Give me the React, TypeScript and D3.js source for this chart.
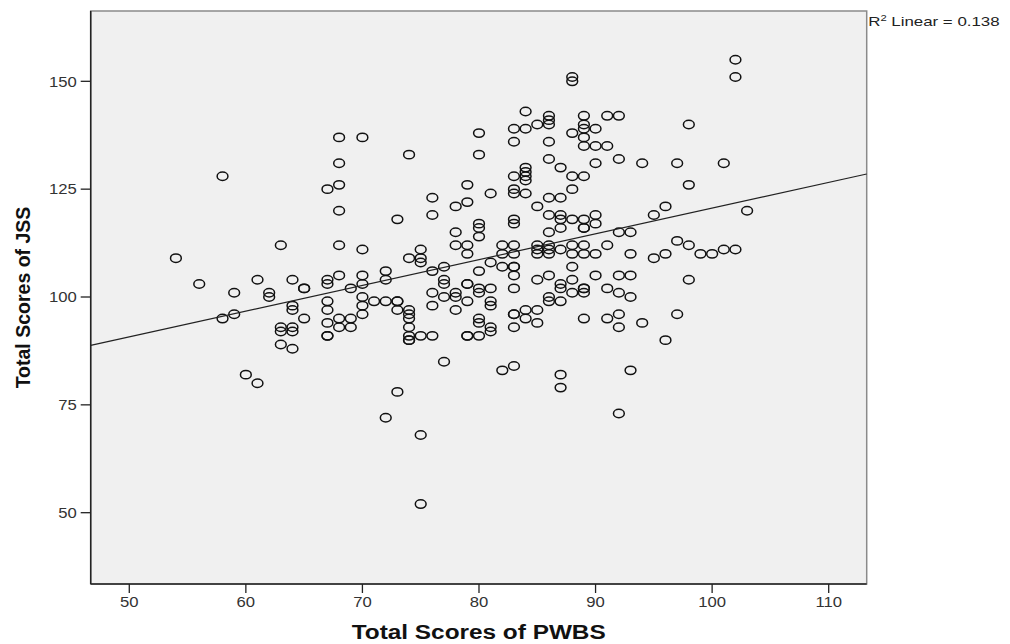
import { useEffect, useRef } from 'react';
import * as d3 from 'd3';

// Total Scores of PWBS (x) / Total Scores of JSS (y)
const pwbs = [
  68, 70, 68, 58, 68, 67, 68, 63, 68, 70, 54, 56, 61, 64, 67, 67, 68, 70, 70, 69,
  59, 62, 62, 65, 65, 70, 64, 64, 70, 70, 59, 58, 65, 63, 63, 64, 64, 67, 68, 69,
  68, 69, 67, 67, 63, 64, 60, 61, 67, 67,
  74, 80, 80, 84, 83, 84, 85, 86, 86, 86, 88, 88, 88, 83, 86, 86, 87, 88, 88, 84,
  84, 84, 84, 83, 83, 83, 84, 81, 79, 79, 78, 76, 76, 73, 85, 86, 87, 86, 87, 87,
  88, 87, 86, 80, 80, 80, 83, 83, 78, 78, 79, 79, 82, 82, 83, 83, 85, 85, 85, 86,
  86, 86, 87, 88, 88, 75, 75, 75, 74, 72, 72, 76, 77, 77, 77, 80, 81, 82, 83, 83,
  83, 85, 86, 87, 87, 88, 88, 88, 76, 77, 78, 78, 79, 79, 80, 80, 81, 83, 86, 86,
  87, 76, 79, 81, 81, 78, 83, 83, 84, 85, 84, 85, 80, 80, 81, 81, 83, 71, 72, 73,
  73, 73, 74, 74, 74, 74, 74, 74, 74, 75, 76, 79, 79, 80, 77, 82, 83, 87, 87, 73,
  72, 75, 75,
  102, 102, 89, 91, 92, 89, 89, 90, 89, 89, 90, 91, 98, 92, 90, 94, 97, 101, 89, 98,
  96, 95, 103, 89, 90, 90, 89, 89, 92, 93, 89, 91, 89, 90, 93, 95, 96, 97, 98, 99,
  100, 101, 102, 90, 92, 93, 98, 89, 89, 89, 91, 92, 93, 89, 91, 92, 92, 94, 97, 96,
  93, 92,
];
const jss = [
  137, 137, 131, 128, 126, 125, 120, 112, 112, 111, 109, 103, 104, 104, 104, 103, 105, 105, 103, 102,
  101, 101, 100, 102, 102, 100, 98, 97, 98, 96, 96, 95, 95, 93, 92, 93, 92, 94, 95, 95,
  93, 93, 91, 91, 89, 88, 82, 80, 99, 97,
  133, 138, 133, 143, 139, 139, 140, 142, 141, 140, 151, 150, 138, 136, 136, 132, 130, 128, 125, 130,
  129, 128, 127, 128, 125, 124, 124, 124, 126, 122, 121, 123, 119, 118, 121, 123, 123, 119, 119, 118,
  118, 116, 115, 117, 116, 114, 118, 117, 115, 112, 112, 110, 112, 110, 112, 110, 112, 111, 110, 112,
  111, 110, 111, 112, 110, 111, 109, 108, 109, 106, 104, 106, 107, 104, 103, 106, 108, 107, 107, 107,
  105, 104, 105, 103, 102, 107, 104, 101, 101, 100, 101, 100, 103, 103, 102, 101, 102, 102, 100, 99,
  99, 98, 99, 99, 98, 97, 96, 96, 97, 97, 95, 94, 95, 94, 93, 92, 93, 99, 99, 99,
  99, 97, 97, 96, 95, 93, 91, 90, 90, 91, 91, 91, 91, 91, 85, 83, 84, 82, 79, 78,
  72, 68, 52,
  155, 151, 142, 142, 142, 140, 139, 139, 137, 135, 135, 135, 140, 132, 131, 131, 131, 131, 128, 126,
  121, 119, 120, 118, 119, 117, 116, 116, 115, 115, 112, 112, 110, 110, 110, 109, 110, 113, 112, 110,
  110, 111, 111, 105, 105, 105, 104, 102, 102, 101, 102, 101, 100, 95, 95, 96, 93, 94, 96, 90,
  83, 73,
];

const xTicks = [50, 60, 70, 80, 90, 100, 110];
const yTicks = [50, 75, 100, 125, 150];
const xDomain = [46.69, 113.26];
const yDomain = [33.47, 166.3];

// linear fit as drawn in the reference
const fitIntercept = 60.9;
const fitSlope = 0.597;
const r2Label = '0.138';

const xTitle = 'Total Scores of PWBS';
const yTitle = 'Total Scores of JSS';

const W = 1010;
const H = 644;
// the source image is stretched sideways a little
const stretch = 1.25;

const App = () => {
  const svgRef = useRef(null);

  useEffect(() => {
    const svg = d3.select(svgRef.current);
    svg.selectAll('*').remove();

    const margin = { top: 11, right: 143.3, bottom: 60, left: 90.7 };
    const x = d3.scaleLinear().domain(xDomain).range([margin.left, W - margin.right]);
    const y = d3.scaleLinear().domain(yDomain).range([H - margin.bottom, margin.top]);

    const x0 = margin.left;
    const x1 = W - margin.right;
    const y0 = H - margin.bottom;
    const y1 = margin.top;

    const font = '"Liberation Sans", Arial, sans-serif';

    // plot background and frame
    svg.append('rect')
      .attr('x', x0).attr('y', y1)
      .attr('width', x1 - x0).attr('height', y0 - y1)
      .attr('fill', '#f0f0f0')
      .attr('stroke', '#8a8a8a')
      .attr('stroke-width', 1.5);

    // x axis
    const gx = svg.append('g').attr('transform', `translate(0,${y0})`);
    gx.append('line').attr('x1', x0).attr('x2', x1).attr('stroke', '#222').attr('stroke-width', 1.5);
    xTicks.forEach(t => {
      gx.append('line')
        .attr('x1', x(t)).attr('x2', x(t))
        .attr('y1', 0).attr('y2', 9)
        .attr('stroke', '#222').attr('stroke-width', 1.3);
      gx.append('text')
        .attr('transform', `translate(${x(t)},23) scale(1.15,1)`)
        .attr('text-anchor', 'middle')
        .attr('font-family', font)
        .attr('font-size', 14.5)
        .attr('fill', '#333')
        .text(t);
    });

    // y axis
    const gy = svg.append('g').attr('transform', `translate(${x0},0)`);
    gy.append('line').attr('y1', y1).attr('y2', y0).attr('stroke', '#222').attr('stroke-width', 1.5);
    yTicks.forEach(t => {
      gy.append('line')
        .attr('x1', -10).attr('x2', 0)
        .attr('y1', y(t)).attr('y2', y(t))
        .attr('stroke', '#222').attr('stroke-width', 1.3);
      gy.append('text')
        .attr('transform', `translate(-14,${y(t)}) scale(1.15,1)`)
        .attr('dy', '0.36em')
        .attr('text-anchor', 'end')
        .attr('font-family', font)
        .attr('font-size', 14.5)
        .attr('fill', '#333')
        .text(t);
    });

    // points
    const pts = d3.zip(pwbs, jss);
    svg.append('g')
      .selectAll('ellipse')
      .data(pts)
      .enter()
      .append('ellipse')
      .attr('cx', d => x(d[0]))
      .attr('cy', d => y(d[1]))
      .attr('rx', 5.4)
      .attr('ry', 4.2)
      .attr('fill', 'none')
      .attr('stroke', '#111')
      .attr('stroke-width', 1.5);

    // fit line
    const line = d3.line()
      .x(d => x(d))
      .y(d => y(fitIntercept + fitSlope * d));
    svg.append('path')
      .datum(xDomain)
      .attr('fill', 'none')
      .attr('stroke', '#222')
      .attr('stroke-width', 1.2)
      .attr('d', line);

    // R2 label
    const r2 = svg.append('text')
      .attr('transform', `translate(${x1 + 1.5},26) scale(${stretch},1)`)
      .attr('font-family', font)
      .attr('font-size', 13.5)
      .attr('fill', '#222');
    r2.append('tspan').text('R');
    r2.append('tspan').attr('dy', -5).attr('font-size', 9).text('2');
    r2.append('tspan').attr('dy', 5).text(` Linear = ${r2Label}`);

    // axis titles
    svg.append('text')
      .attr('transform', `translate(${(x0 + x1) / 2},639) scale(${stretch},1)`)
      .attr('text-anchor', 'middle')
      .attr('font-family', font)
      .attr('font-weight', 'bold')
      .attr('font-size', 19.5)
      .attr('fill', '#111')
      .text(xTitle);

    svg.append('text')
      .attr('transform', `translate(30,${(y0 + y1) / 2}) rotate(-90)`)
      .attr('text-anchor', 'middle')
      .attr('font-family', font)
      .attr('font-weight', 'bold')
      .attr('font-size', 19.5)
      .attr('fill', '#111')
      .text(yTitle);
  }, []);

  return (
    <div style={{ position: 'absolute', left: 0, top: 0, background: '#fff' }}>
      <svg ref={svgRef} width={W} height={H} style={{ display: 'block' }} />
    </div>
  );
};

export default App;
